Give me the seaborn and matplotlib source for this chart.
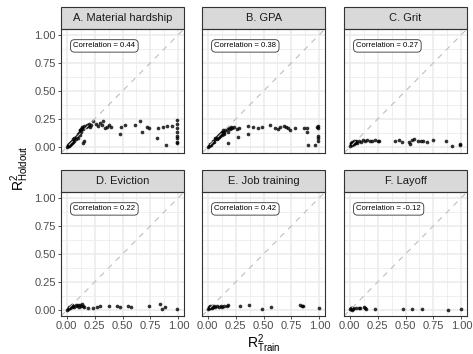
import numpy as np
import pandas as pd
import matplotlib.pyplot as plt
import seaborn as sns
from matplotlib.patches import Rectangle

# Outcomes and the correlation printed in each panel
outcomes = ['A. Material hardship', 'B. GPA', 'C. Grit',
            'D. Eviction', 'E. Job training', 'F. Layoff']
correlations = ['0.44', '0.38', '0.27', '0.22', '0.42', '-0.12']

# R2 on training data vs holdout data
a_train = [0.00, 0.01, 0.01, 0.02, 0.02, 0.03, 0.03, 0.04, 0.04, 0.05, 0.05, 0.06, 0.06, 0.07,
           0.07, 0.08, 0.08, 0.09, 0.10, 0.10, 0.11, 0.12, 0.12, 0.13, 0.13, 0.14, 0.14, 0.15,
           0.16, 0.17, 0.18, 0.19, 0.20, 0.21, 0.22, 0.24, 0.26, 0.28, 0.30, 0.32, 0.33, 0.34,
           0.36, 0.38, 0.40, 0.15, 0.16, 0.12, 0.48, 0.49, 0.52, 0.61, 0.66, 0.67, 0.72, 0.74,
           0.81, 0.82, 0.865, 0.895, 0.89, 0.94, 0.99, 0.99, 0.99, 0.99, 0.99, 0.99, 0.99, 0.99]
a_holdout = [0.00, 0.01, 0.02, 0.01, 0.03, 0.02, 0.04, 0.03, 0.05, 0.04, 0.06, 0.05, 0.07, 0.06,
             0.08, 0.07, 0.09, 0.10, 0.08, 0.12, 0.13, 0.11, 0.15, 0.16, 0.14, 0.17, 0.18, 0.16,
             0.19, 0.18, 0.20, 0.19, 0.21, 0.18, 0.20, 0.23, 0.21, 0.19, 0.22, 0.20, 0.23, 0.17,
             0.18, 0.20, 0.18, 0.04, 0.06, 0.15, 0.12, 0.18, 0.20, 0.20, 0.23, 0.14, 0.18, 0.17,
             0.08, 0.17, 0.18, 0.19, 0.02, 0.19, 0.24, 0.21, 0.17, 0.14, 0.10, 0.08, 0.05, 0.04]

b_train = [0.00, 0.01, 0.02, 0.02, 0.03, 0.04, 0.05, 0.05, 0.06, 0.07, 0.07, 0.08, 0.08, 0.09,
           0.09, 0.10, 0.10, 0.11, 0.11, 0.12, 0.12, 0.13, 0.13, 0.14, 0.14, 0.15, 0.15, 0.16,
           0.17, 0.18, 0.19, 0.20, 0.21, 0.22, 0.24, 0.26, 0.28, 0.185, 0.27, 0.36, 0.36, 0.41,
           0.45, 0.49, 0.56, 0.60, 0.63, 0.65, 0.68, 0.70, 0.72, 0.74, 0.78, 0.86, 0.885, 0.885,
           0.90, 0.96, 0.98, 0.99, 0.99, 0.99, 0.99, 0.99]
b_holdout = [0.00, 0.01, 0.02, 0.03, 0.02, 0.04, 0.05, 0.06, 0.05, 0.07, 0.08, 0.07, 0.09, 0.10,
             0.08, 0.11, 0.09, 0.12, 0.10, 0.12, 0.13, 0.11, 0.14, 0.13, 0.15, 0.14, 0.12, 0.15,
             0.16, 0.14, 0.17, 0.16, 0.18, 0.17, 0.18, 0.16, 0.17, 0.04, 0.09, 0.12, 0.19, 0.18,
             0.17, 0.18, 0.20, 0.17, 0.16, 0.18, 0.19, 0.18, 0.17, 0.15, 0.17, 0.17, 0.17, 0.14,
             0.025, 0.025, 0.18, 0.19, 0.17, 0.10, 0.08, 0.06]

c_train = [0.00, 0.01, 0.01, 0.02, 0.02, 0.03, 0.03, 0.04, 0.04, 0.05, 0.05, 0.06, 0.06, 0.07,
           0.08, 0.10, 0.12, 0.14, 0.16, 0.18, 0.20, 0.23, 0.25, 0.26, 0.41, 0.44, 0.47, 0.53,
           0.54, 0.56, 0.58, 0.61, 0.64, 0.66, 0.69, 0.75, 0.86, 0.92, 0.99, 0.99]
c_holdout = [0.01, 0.03, 0.04, 0.02, 0.05, 0.03, 0.04, 0.06, 0.03, 0.05, 0.04, 0.06, 0.05, 0.04,
             0.06, 0.05, 0.065, 0.06, 0.065, 0.06, 0.06, 0.065, 0.06, 0.06, 0.06, 0.065, 0.045,
             0.05, 0.03, 0.065, 0.07, 0.06, 0.055, 0.06, 0.045, 0.065, 0.06, 0.01, 0.02, 0.03]

d_train = [0.00, 0.01, 0.02, 0.02, 0.03, 0.04, 0.05, 0.05, 0.06, 0.07, 0.08, 0.09, 0.10, 0.11,
           0.12, 0.13, 0.14, 0.15, 0.16, 0.19, 0.24, 0.27, 0.30, 0.38, 0.45, 0.48, 0.55, 0.58,
           0.74, 0.835, 0.85, 0.88, 0.99]
d_holdout = [0.00, 0.01, 0.02, 0.03, 0.02, 0.04, 0.03, 0.05, 0.04, 0.03, 0.05, 0.04, 0.05, 0.03,
             0.05, 0.04, 0.06, 0.04, 0.03, 0.02, 0.02, 0.03, 0.04, 0.04, 0.04, 0.03, 0.04, 0.03,
             0.04, 0.06, 0.01, 0.03, 0.01]

e_train = [0.00, 0.01, 0.01, 0.02, 0.02, 0.03, 0.04, 0.04, 0.05, 0.06, 0.07, 0.08, 0.10, 0.12,
           0.13, 0.15, 0.17, 0.185, 0.29, 0.37, 0.49, 0.57, 0.83, 0.84, 0.85, 1.00]
e_holdout = [0.01, 0.02, 0.03, 0.02, 0.04, 0.03, 0.02, 0.04, 0.03, 0.04, 0.03, 0.04, 0.03, 0.04,
             0.03, 0.04, 0.04, 0.05, 0.04, 0.05, 0.01, 0.03, 0.05, 0.04, 0.04, 0.02]

f_train = [0.00, 0.01, 0.01, 0.02, 0.02, 0.03, 0.03, 0.06, 0.08, 0.09, 0.13, 0.14, 0.15, 0.23,
           0.48, 0.56, 0.645, 0.88, 1.00]
f_holdout = [0.01, 0.02, 0.01, 0.02, 0.00, 0.01, 0.02, 0.02, 0.02, 0.02, 0.03, 0.02, 0.01, 0.01,
             0.01, 0.01, 0.01, 0.00, 0.01]

trains = [a_train, b_train, c_train, d_train, e_train, f_train]
holdouts = [a_holdout, b_holdout, c_holdout, d_holdout, e_holdout, f_holdout]

df = pd.concat([pd.DataFrame({'outcome': name, 'train': tr, 'holdout': ho})
                for name, tr, ho in zip(outcomes, trains, holdouts)])

sns.set_theme(style='white')
plt.rcParams['font.family'] = ['Liberation Sans', 'DejaVu Sans']

g = sns.FacetGrid(df, col='outcome', col_wrap=3, col_order=outcomes, height=1.5,
                  sharex=True, sharey=True, despine=False)
g.map_dataframe(sns.scatterplot, x='train', y='holdout', color='black', s=7,
                alpha=0.8, linewidth=0)
g.set_titles('')
g.set_axis_labels('', '')

fig = g.figure
fig.set_size_inches(4.73, 3.54)
W, H = 473, 354
lefts = [61, 202, 344]
tops = [29, 192]
pw, ph = 123, 124

ticks = [0, 0.25, 0.5, 0.75, 1]
tick_labels = ['0.00', '0.25', '0.50', '0.75', '1.00']
minor = [0.125, 0.375, 0.625, 0.875]

for i, ax in enumerate(g.axes.flat):
    row, col = divmod(i, 3)
    ax.set_position([lefts[col] / W, 1 - (tops[row] + ph) / H, pw / W, ph / H])
    ax.set_xlim(-0.05, 1.05)
    ax.set_ylim(-0.05, 1.05)
    ax.set_xticks(ticks)
    ax.set_yticks(ticks)
    ax.set_xticks(minor, minor=True)
    ax.set_yticks(minor, minor=True)
    ax.grid(which='major', color='#EBEBEB', linewidth=1.1)
    ax.grid(which='minor', color='#EBEBEB', linewidth=0.55)
    ax.set_axisbelow(True)
    for sp in ax.spines.values():
        sp.set_color('#333333')
        sp.set_linewidth(0.8)
    ax.tick_params(which='minor', length=0)
    ax.tick_params(which='major', length=2.2, width=0.6, color='#333333',
                   labelcolor='#4D4D4D', labelsize=8, pad=1.5,
                   left=(col == 0), bottom=(row == 1),
                   labelleft=(col == 0), labelbottom=(row == 1))
    if col == 0:
        ax.set_yticklabels(tick_labels)
    if row == 1:
        ax.set_xticklabels(tick_labels)

    ax.axline((0, 0), (1, 1), color='#BEBEBE', linestyle=(0, (5, 5)), linewidth=0.8, zorder=1)

    ax.text(0.06, 0.90, f'Correlation = {correlations[i]}', fontsize=5.6, color='black',
            ha='left', va='center',
            bbox=dict(boxstyle='round,pad=0.35,rounding_size=0.5', fc='white',
                      ec='#333333', lw=0.6))

    ax.add_patch(Rectangle((0, 1), 1, 22 / ph, transform=ax.transAxes, fc='#D9D9D9',
                           ec='#333333', lw=0.8, clip_on=False))
    ax.text(0.5, 1 + 11 / ph, outcomes[i], transform=ax.transAxes, ha='center',
            va='center', fontsize=8, color='#1A1A1A')

fig.text(264 / W, 1 - 344 / H, r'$\mathregular{R^2_{Train}}$', ha='center', va='center',
         fontsize=10, color='black')
fig.text(20 / W, 1 - 168 / H, r'$\mathregular{R^2_{Holdout}}$', ha='center', va='center',
         rotation=90, fontsize=10, color='black')

fig.savefig('out.png', dpi=100)
